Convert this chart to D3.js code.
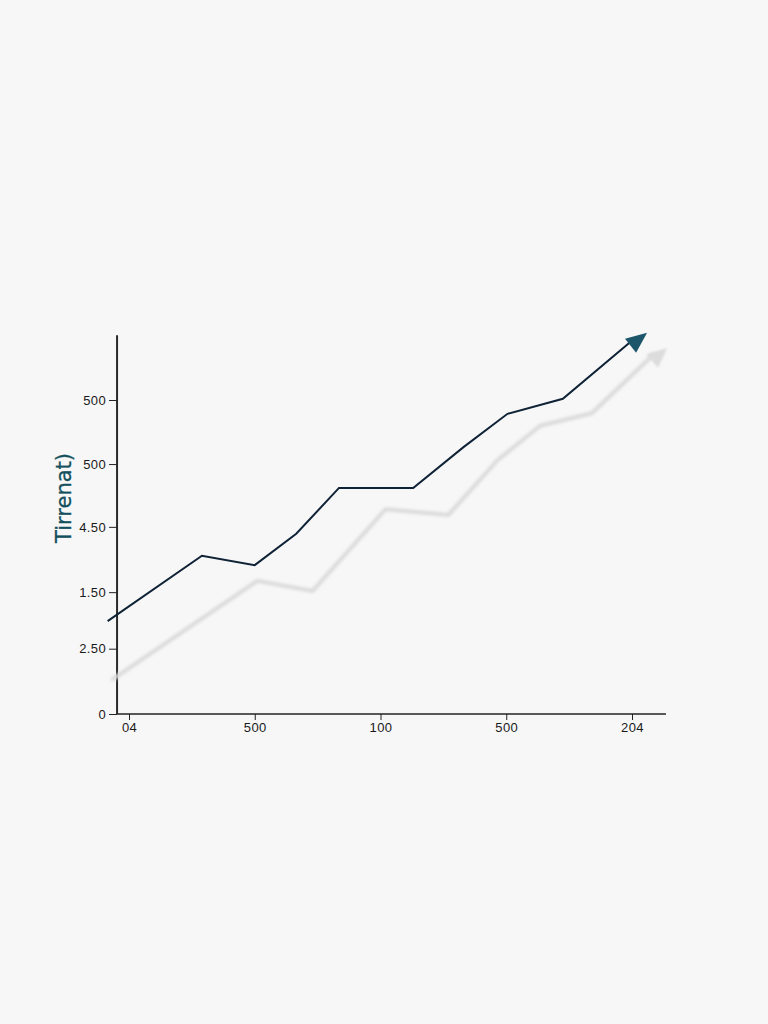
<!DOCTYPE html>
<html>
<head>
<meta charset="utf-8">
<script src="https://cdn.jsdelivr.net/npm/d3@7.9.0/dist/d3.min.js"></script>
<style>
  html, body { margin: 0; padding: 0; background: #f7f7f7; }
  svg { display: block; }
  .tick text { font-family: "Liberation Sans", Arial, sans-serif; font-size: 13px; letter-spacing: 0.4px; fill: #1a1a1a; }
</style>
</head>
<body>
<svg id="chart" width="768" height="1024"></svg>
<script>
// tick positions (in axis units) and the labels printed there
const xTickPos = [0, 1, 2, 3, 4];
const xTickLabels = ["04", "500", "100", "500", "204"];
const yTickPos = [0, 1.04, 1.94, 2.98, 3.98, 5];
const yTickLabels = ["0", "2.50", "1.50", "4.50", "500", "500"];
const yTitle = "Tirrenat)";

// main line
const mainX = [-0.17, 0.58, 1.0, 1.33, 1.67, 2.26, 2.66, 3.01, 3.45, 4.12];
const mainY = [1.48, 2.52, 2.37, 2.87, 3.60, 3.60, 4.25, 4.78, 5.02, 6.07];
// faded shadow line
const shadowX = [-0.14, 1.02, 1.46, 2.04, 2.54, 2.93, 3.27, 3.68, 4.28];
const shadowY = [0.54, 2.12, 1.96, 3.26, 3.17, 4.04, 4.59, 4.79, 5.83];

const svg = d3.select("#chart");

const x = d3.scaleLinear().domain([0, 4]).range([129, 632]);
const y = d3.scaleLinear().domain([0, 5]).range([714, 400]);

const defs = svg.append("defs");
defs.append("filter").attr("id", "blur")
  .append("feGaussianBlur").attr("stdDeviation", 1.6);
defs.append("filter").attr("id", "soft")
  .append("feGaussianBlur").attr("stdDeviation", 1);

// axis shadow
svg.append("line")
  .attr("x1", x(-0.095) + 3).attr("x2", x(-0.095) + 3)
  .attr("y1", y(6.03)).attr("y2", y(0))
  .attr("stroke", "#c4c4c4").attr("stroke-width", 3)
  .attr("filter", "url(#soft)");

// x axis
const xAxis = svg.append("g")
  .attr("transform", `translate(0,${y(0)})`)
  .call(d3.axisBottom(x).tickValues(xTickPos).tickSize(6).tickPadding(3)
    .tickFormat((d, i) => xTickLabels[i]));
xAxis.select(".domain").remove();
xAxis.selectAll(".tick line").attr("stroke", "#222");
xAxis.append("line")
  .attr("x1", x(-0.095)).attr("x2", x(4.27))
  .attr("stroke", "#222").attr("stroke-width", 1.5);

// y axis
const yAxis = svg.append("g")
  .attr("transform", `translate(${x(-0.095)},0)`)
  .call(d3.axisLeft(y).tickValues(yTickPos).tickSize(8).tickPadding(3)
    .tickFormat((d, i) => yTickLabels[i]));
yAxis.select(".domain").remove();
yAxis.selectAll(".tick line").attr("stroke", "#222");
yAxis.append("line")
  .attr("y1", y(6.03)).attr("y2", y(0))
  .attr("stroke", "#2a2a2a").attr("stroke-width", 2);

svg.append("text")
  .attr("transform", `translate(71,498) rotate(-90)`)
  .attr("text-anchor", "middle")
  .attr("font-family", "'DejaVu Sans', sans-serif")
  .attr("font-size", 21)
  .attr("fill", "#134f5c")
  .attr("stroke", "#134f5c").attr("stroke-width", 0.3)
  .text(yTitle);

const line = d3.line().x(d => x(d[0])).y(d => y(d[1]));

function arrowHead(pts, len, half, color, filter) {
  const a = pts[pts.length - 2], b = pts[pts.length - 1];
  const x0 = x(a[0]), y0 = y(a[1]), x1 = x(b[0]), y1 = y(b[1]);
  const ang = Math.atan2(y1 - y0, x1 - x0);
  const bx = x1 - len * Math.cos(ang), by = y1 - len * Math.sin(ang);
  const px = -Math.sin(ang) * half, py = Math.cos(ang) * half;
  const p = svg.append("path")
    .attr("d", `M${x1},${y1}L${bx + px},${by + py}L${bx - px},${by - py}Z`)
    .attr("fill", color);
  if (filter) p.attr("filter", filter);
  return [bx, by];
}

// shadow line
const shadowPts = shadowX.map((v, i) => [v, shadowY[i]]);
svg.append("path")
  .datum(shadowPts.slice(0, -1).concat([[
    shadowX[shadowX.length - 1] - 0.1, shadowY[shadowY.length - 1] - 0.09]]))
  .attr("d", line)
  .attr("fill", "none").attr("stroke", "#dadada").attr("stroke-width", 4)
  .attr("stroke-linejoin", "round")
  .attr("filter", "url(#blur)");
arrowHead(shadowPts, 20, 9, "#dcdcdc", "url(#soft)");

// main line
const mainPts = mainX.map((v, i) => [v, mainY[i]]);
svg.append("path")
  .datum(mainPts.slice(0, -1).concat([[
    mainX[mainX.length - 1] - 0.1, mainY[mainY.length - 1] - 0.09]]))
  .attr("d", line)
  .attr("fill", "none").attr("stroke", "#0f2236").attr("stroke-width", 2)
  .attr("stroke-linejoin", "miter");
arrowHead(mainPts, 21, 9, "#1b566b");
</script>
</body>
</html>
